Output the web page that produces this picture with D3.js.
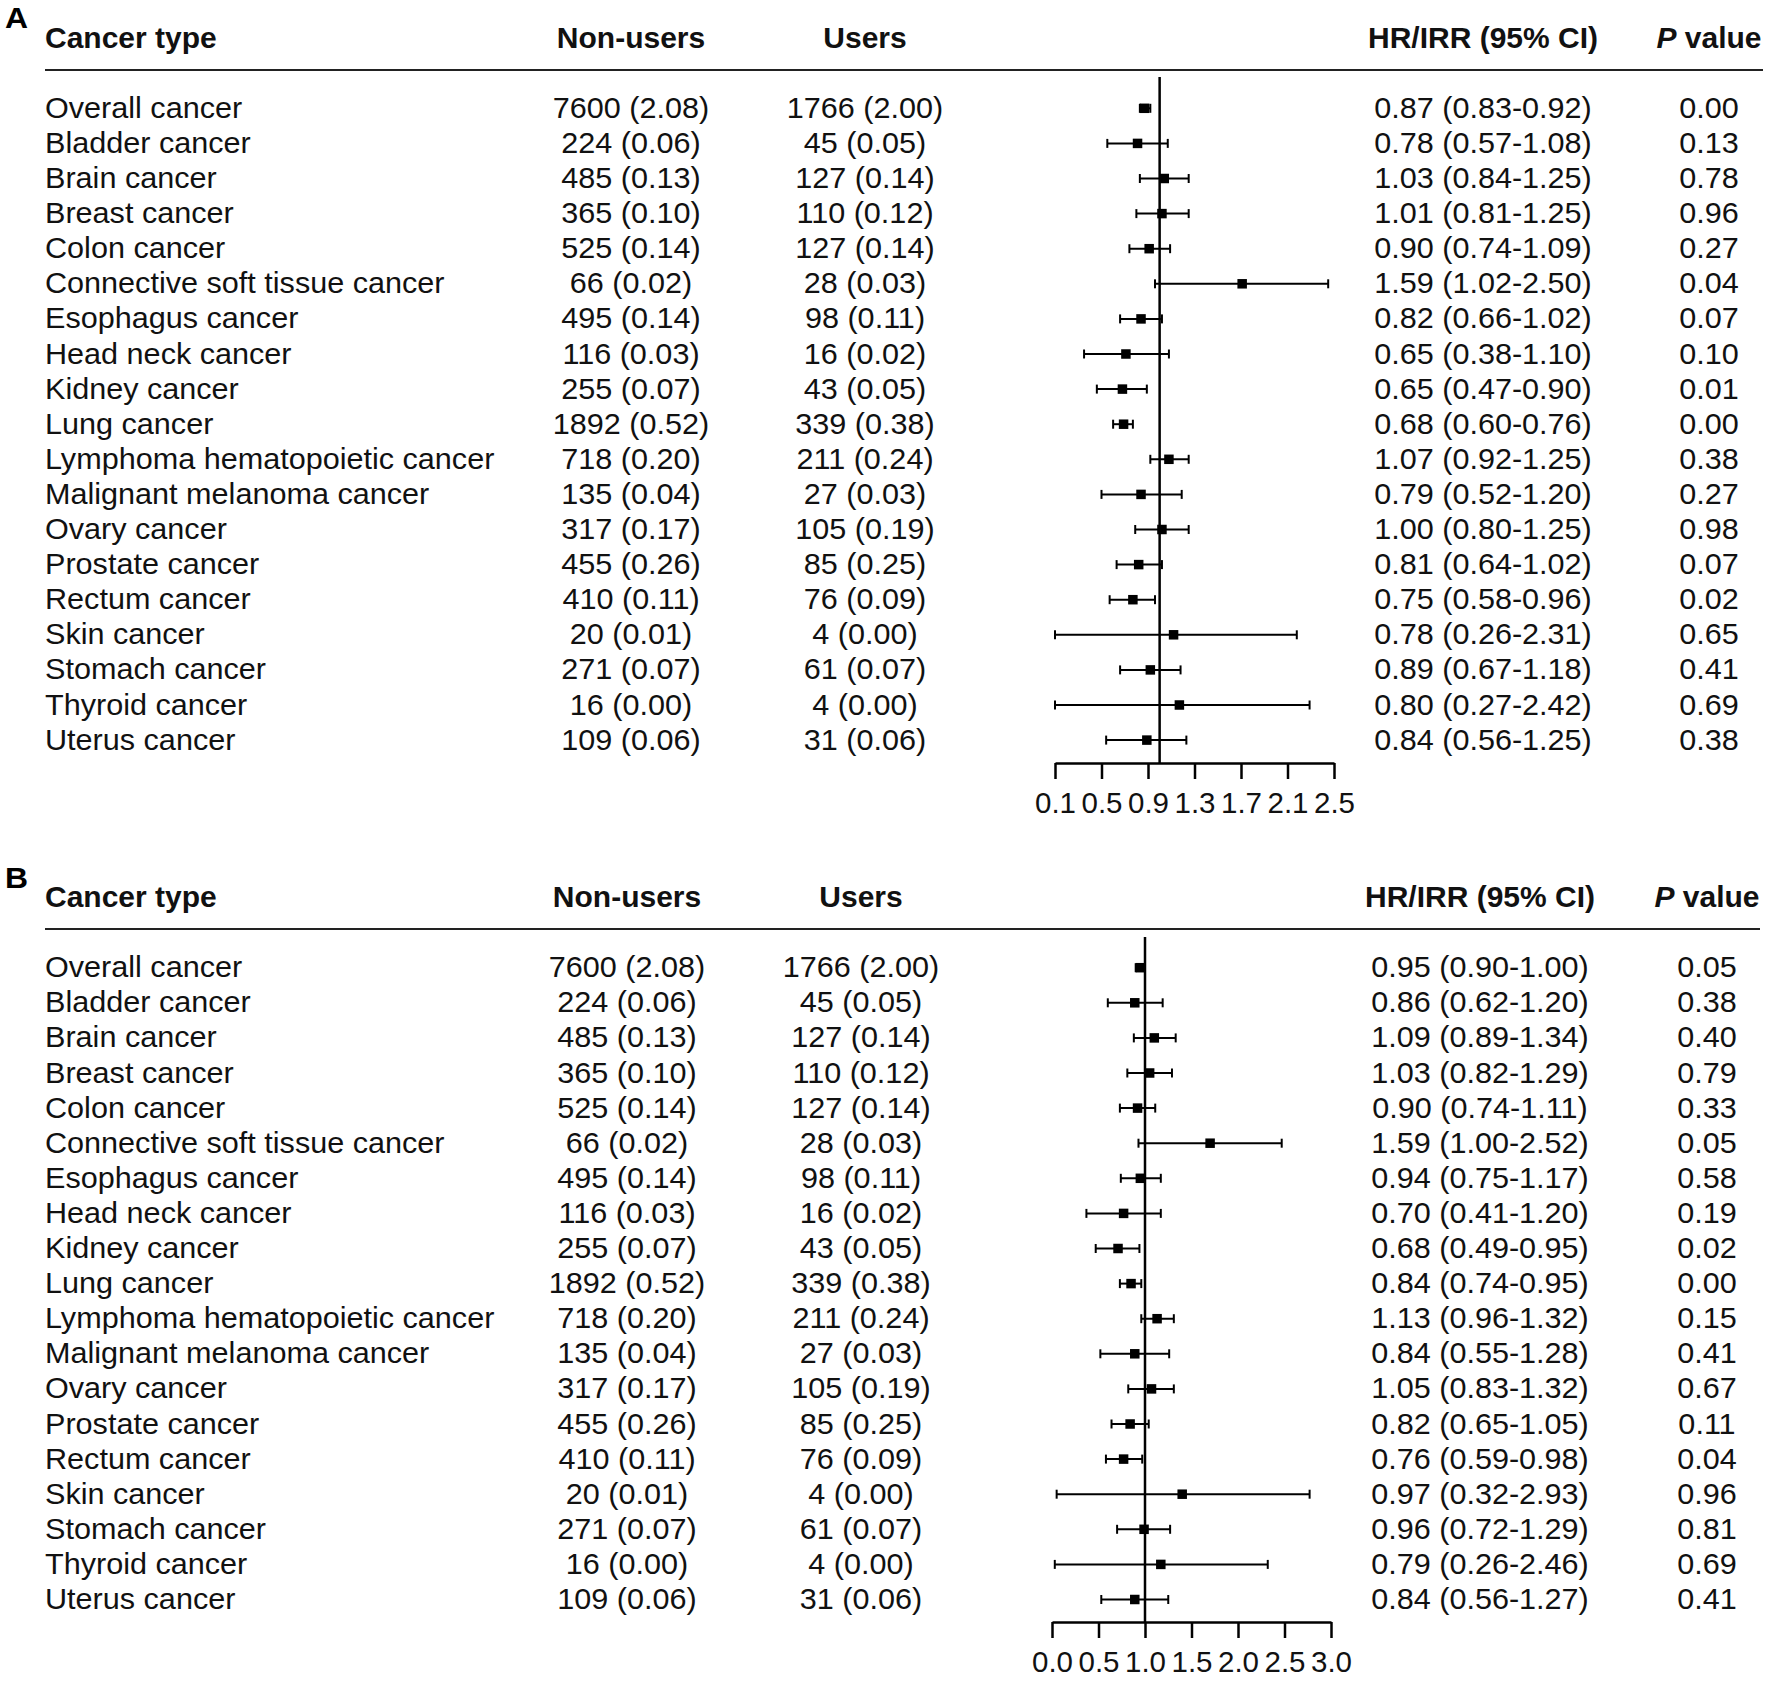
<!DOCTYPE html>
<html>
<head>
<meta charset="utf-8">
<script src="https://cdn.jsdelivr.net/npm/d3@7"></script>
<style>
  html, body { margin: 0; padding: 0; background: #fff; }
  svg { display: block; }
</style>
</head>
<body>
<svg id="chart" width="1772" height="1687"></svg>
<script>
// ---------------- DATA ----------------
const cancerTypes = [
  "Overall cancer", "Bladder cancer", "Brain cancer", "Breast cancer", "Colon cancer",
  "Connective soft tissue cancer", "Esophagus cancer", "Head neck cancer", "Kidney cancer",
  "Lung cancer", "Lymphoma hematopoietic cancer", "Malignant melanoma cancer", "Ovary cancer",
  "Prostate cancer", "Rectum cancer", "Skin cancer", "Stomach cancer", "Thyroid cancer", "Uterus cancer"
];
const nonUsersCount = [7600, 224, 485, 365, 525, 66, 495, 116, 255, 1892, 718, 135, 317, 455, 410, 20, 271, 16, 109];
const nonUsersRate  = [2.08, 0.06, 0.13, 0.10, 0.14, 0.02, 0.14, 0.03, 0.07, 0.52, 0.20, 0.04, 0.17, 0.26, 0.11, 0.01, 0.07, 0.00, 0.06];
const usersCount    = [1766, 45, 127, 110, 127, 28, 98, 16, 43, 339, 211, 27, 105, 85, 76, 4, 61, 4, 31];
const usersRate     = [2.00, 0.05, 0.14, 0.12, 0.14, 0.03, 0.11, 0.02, 0.05, 0.38, 0.24, 0.03, 0.19, 0.25, 0.09, 0.00, 0.07, 0.00, 0.06];

// Panel A – table values
const hrA    = [0.87, 0.78, 1.03, 1.01, 0.90, 1.59, 0.82, 0.65, 0.65, 0.68, 1.07, 0.79, 1.00, 0.81, 0.75, 0.78, 0.89, 0.80, 0.84];
const hrLoA  = [0.83, 0.57, 0.84, 0.81, 0.74, 1.02, 0.66, 0.38, 0.47, 0.60, 0.92, 0.52, 0.80, 0.64, 0.58, 0.26, 0.67, 0.27, 0.56];
const hrHiA  = [0.92, 1.08, 1.25, 1.25, 1.09, 2.50, 1.02, 1.10, 0.90, 0.76, 1.25, 1.20, 1.25, 1.02, 0.96, 2.31, 1.18, 2.42, 1.25];
const pValA  = [0.00, 0.13, 0.78, 0.96, 0.27, 0.04, 0.07, 0.10, 0.01, 0.00, 0.38, 0.27, 0.98, 0.07, 0.02, 0.65, 0.41, 0.69, 0.38];
// Panel A – plotted markers (as drawn in the figure)
const plotEstA = [0.87, 0.81, 1.04, 1.02, 0.91, 1.71, 0.84, 0.71, 0.68, 0.69, 1.08, 0.84, 1.02, 0.82, 0.77, 1.12, 0.92, 1.17, 0.89];
const plotLoA  = [0.83, 0.55, 0.83, 0.80, 0.74, 0.96, 0.66, 0.35, 0.46, 0.60, 0.92, 0.50, 0.79, 0.63, 0.57, 0.10, 0.66, 0.10, 0.54];
const plotHiA  = [0.92, 1.07, 1.25, 1.25, 1.09, 2.45, 1.02, 1.08, 0.89, 0.77, 1.25, 1.19, 1.25, 1.02, 0.96, 2.18, 1.18, 2.29, 1.23];
const ticksA   = [0.1, 0.5, 0.9, 1.3, 1.7, 2.1, 2.5];

// Panel B – table values
const hrB    = [0.95, 0.86, 1.09, 1.03, 0.90, 1.59, 0.94, 0.70, 0.68, 0.84, 1.13, 0.84, 1.05, 0.82, 0.76, 0.97, 0.96, 0.79, 0.84];
const hrLoB  = [0.90, 0.62, 0.89, 0.82, 0.74, 1.00, 0.75, 0.41, 0.49, 0.74, 0.96, 0.55, 0.83, 0.65, 0.59, 0.32, 0.72, 0.26, 0.56];
const hrHiB  = [1.00, 1.20, 1.34, 1.29, 1.11, 2.52, 1.17, 1.20, 0.95, 0.95, 1.32, 1.28, 1.32, 1.05, 0.98, 2.93, 1.29, 2.46, 1.27];
const pValB  = [0.05, 0.38, 0.40, 0.79, 0.33, 0.05, 0.58, 0.19, 0.02, 0.00, 0.15, 0.41, 0.67, 0.11, 0.04, 0.96, 0.81, 0.69, 0.41];
// Panel B – plotted markers (as drawn in the figure)
const plotEstB = [0.95, 0.89, 1.10, 1.05, 0.92, 1.70, 0.95, 0.77, 0.71, 0.85, 1.13, 0.89, 1.07, 0.84, 0.77, 1.40, 0.99, 1.17, 0.89];
const plotLoB  = [0.90, 0.60, 0.88, 0.81, 0.73, 0.93, 0.74, 0.37, 0.47, 0.73, 0.96, 0.52, 0.82, 0.64, 0.58, 0.05, 0.70, 0.03, 0.53];
const plotHiB  = [1.00, 1.19, 1.33, 1.29, 1.11, 2.47, 1.17, 1.17, 0.94, 0.96, 1.31, 1.26, 1.31, 1.04, 0.97, 2.77, 1.27, 2.32, 1.25];
const ticksB   = [0.0, 0.5, 1.0, 1.5, 2.0, 2.5, 3.0];

const headers = ["Cancer type", "Non-users", "Users", "HR/IRR (95% CI)"];

// ---------------- DRAWING ----------------
const FONT = "'Liberation Sans', Arial, Helvetica, sans-serif";
const svg = d3.select("#chart");
const f2 = d3.format(".2f");
const BODY_STRETCH = 1.055, HEAD_STRETCH = 1.035;

function drawPanel(cfg) {
  const g = svg.append("g");
  const n = cancerTypes.length;
  const y = d3.scalePoint().domain(cancerTypes).range([cfg.rowY0, cfg.rowY0 + cfg.rowStep * (n - 1)]);
  const x = d3.scaleLinear().domain(cfg.domain).range(cfg.xRange);

  // panel letter
  g.append("text").attr("transform", `translate(5,${cfg.letterY}) scale(1.1,1)`).text(cfg.letter)
    .attr("font-family", FONT).attr("font-weight", "bold").attr("font-size", 29).attr("fill", "#000");

  // headers
  const hy = cfg.headerY;
  const head = (txt, xx, anchor) => g.append("text")
    .attr("transform", `translate(${xx},${hy}) scale(${HEAD_STRETCH},1)`).attr("text-anchor", anchor)
    .attr("font-family", FONT).attr("font-weight", "bold").attr("font-size", 29).attr("fill", "#111").text(txt);
  head(headers[0], 45, "start");
  head(headers[1], cfg.colNon, "middle");
  head(headers[2], cfg.colUsers, "middle");
  head(headers[3], cfg.colHR, "middle");
  const pv = g.append("text").attr("transform", `translate(${cfg.colP},${hy}) scale(${HEAD_STRETCH},1)`)
    .attr("text-anchor", "middle")
    .attr("font-family", FONT).attr("font-weight", "bold").attr("font-size", 29).attr("fill", "#111");
  pv.append("tspan").attr("font-style", "italic").text("P");
  pv.append("tspan").text(" value");

  // header rule
  g.append("line").attr("x1", 45).attr("x2", cfg.ruleX2).attr("y1", cfg.ruleY).attr("y2", cfg.ruleY)
    .attr("stroke", "#222").attr("stroke-width", 2);

  // table body
  const rows = g.append("g").attr("font-family", FONT).attr("font-size", 29).attr("fill", "#111");
  const cell = (xx, yy, anchor, txt) => rows.append("text")
    .attr("transform", `translate(${xx},${yy}) scale(${BODY_STRETCH},1)`)
    .attr("text-anchor", anchor).text(txt);
  cancerTypes.forEach((c, i) => {
    const by = y(c) + cfg.textDy;
    cell(45, by, "start", c);
    cell(cfg.colNon, by, "middle", `${nonUsersCount[i]} (${f2(nonUsersRate[i])})`);
    cell(cfg.colUsers, by, "middle", `${usersCount[i]} (${f2(usersRate[i])})`);
    cell(cfg.colHR, by, "middle", `${f2(cfg.hr[i])} (${f2(cfg.lo[i])}-${f2(cfg.hi[i])})`);
    cell(cfg.colP, by, "middle", f2(cfg.p[i]));
  });

  // reference line at 1
  g.append("line").attr("x1", x(1)).attr("x2", x(1)).attr("y1", cfg.refTop).attr("y2", cfg.axisY)
    .attr("stroke", "#000").attr("stroke-width", 2.5);

  // error bars
  const plot = g.append("g");
  cancerTypes.forEach((c, i) => {
    const yy = y(c);
    const x1 = x(cfg.pLo[i]), x2 = x(cfg.pHi[i]);
    plot.append("line").attr("x1", x1).attr("x2", x2).attr("y1", yy).attr("y2", yy)
      .attr("stroke", "#000").attr("stroke-width", 2);
    [x1, x2].forEach(xx => plot.append("line").attr("x1", xx).attr("x2", xx)
      .attr("y1", yy - 4.5).attr("y2", yy + 4.5).attr("stroke", "#000").attr("stroke-width", 2));
    const s = 9.5;
    plot.append("rect").attr("x", x(cfg.pEst[i]) - s / 2).attr("y", yy - s / 2)
      .attr("width", s).attr("height", s).attr("fill", "#000");
  });

  // x axis
  const axis = d3.axisBottom(x).tickValues(cfg.ticks).tickFormat(d3.format(".1f"))
    .tickSize(16).tickSizeOuter(0).tickPadding(13);
  const ag = g.append("g").attr("transform", `translate(0,${cfg.axisY})`).call(axis);
  ag.select(".domain").attr("stroke", "#000").attr("stroke-width", 2.5);
  ag.selectAll(".tick line").attr("stroke", "#000").attr("stroke-width", 2.5);
  ag.selectAll(".tick text").attr("font-family", FONT).attr("font-size", 29.5).attr("fill", "#111");
}

drawPanel({
  letter: "A", letterY: 28, headerY: 48, ruleY: 70, ruleX2: 1763,
  colNon: 631, colUsers: 865, colHR: 1483, colP: 1709,
  rowY0: 108.3, rowStep: 35.1, textDy: 9.5,
  domain: [0.1, 2.5], xRange: [1055, 1334], ticks: ticksA,
  refTop: 77, axisY: 763,
  hr: hrA, lo: hrLoA, hi: hrHiA, p: pValA,
  pEst: plotEstA, pLo: plotLoA, pHi: plotHiA
});

drawPanel({
  letter: "B", letterY: 888, headerY: 907, ruleY: 929, ruleX2: 1760,
  colNon: 627, colUsers: 861, colHR: 1480, colP: 1707,
  rowY0: 967.7, rowStep: 35.1, textDy: 9.5,
  domain: [0, 3], xRange: [1052, 1331], ticks: ticksB,
  refTop: 937, axisY: 1622,
  hr: hrB, lo: hrLoB, hi: hrHiB, p: pValB,
  pEst: plotEstB, pLo: plotLoB, pHi: plotHiB
});
</script>
</body>
</html>
